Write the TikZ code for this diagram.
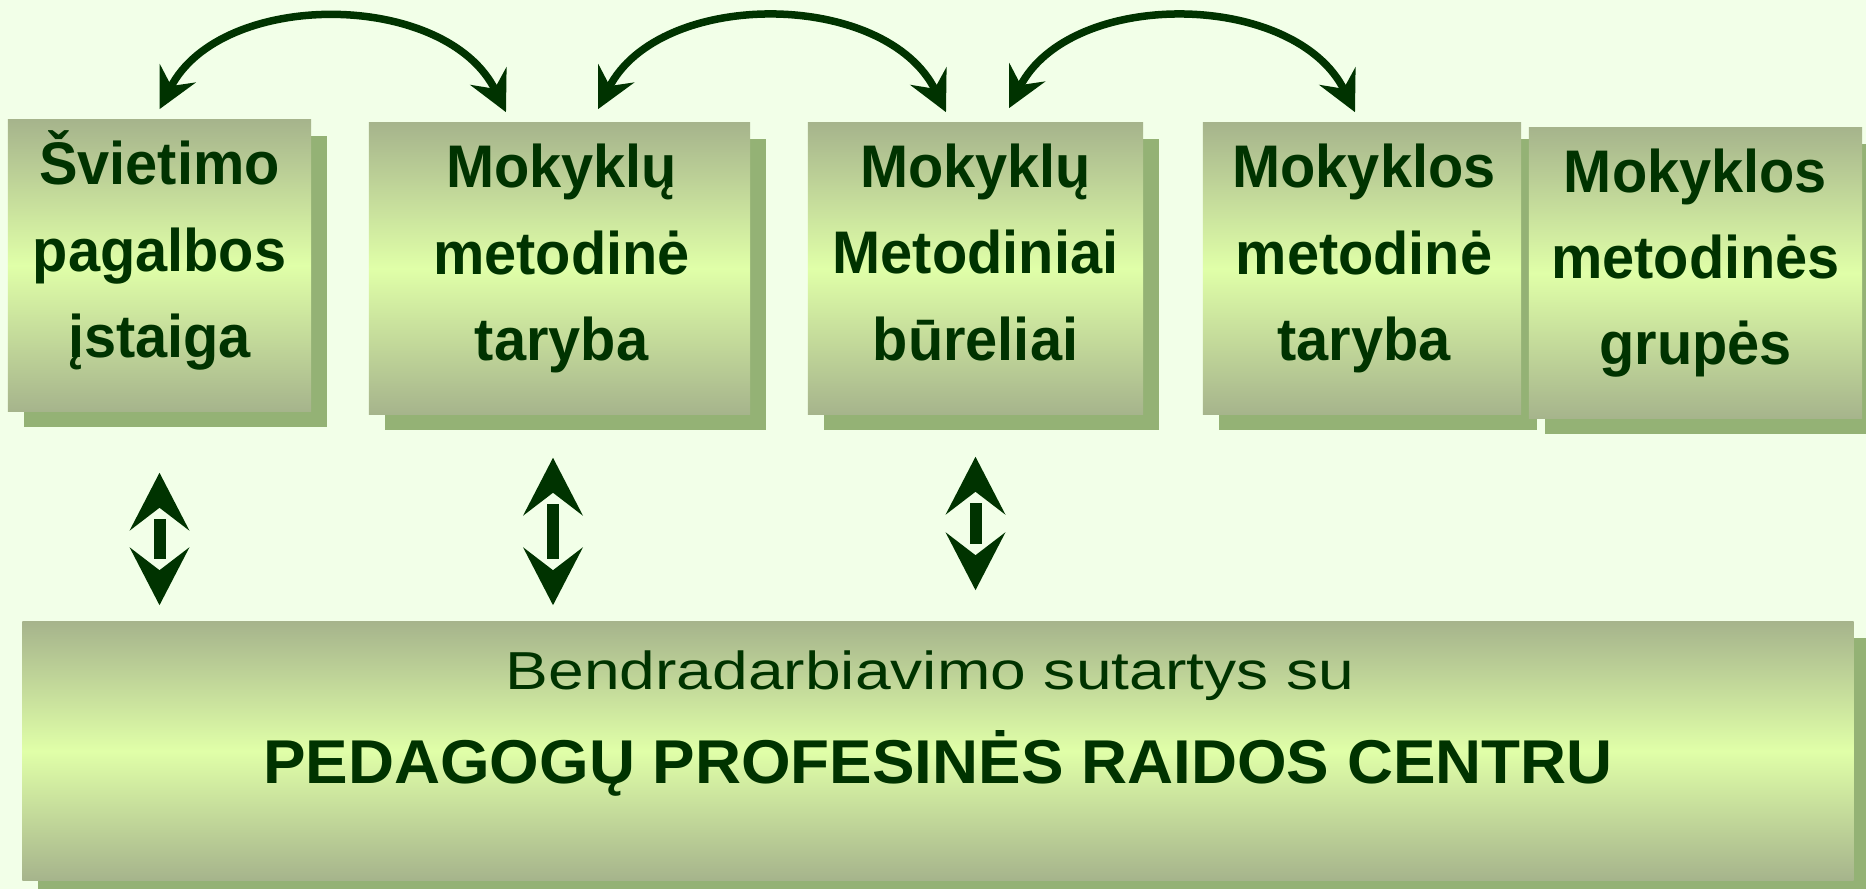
\documentclass[tikz,border=0pt]{standalone}
\usepackage{fontspec}
\setmainfont{Liberation Sans}
\newfontfamily\boxfont[FakeStretch=0.96]{Liberation Sans}
\newfontfamily\widefont[FakeStretch=1.2]{Liberation Sans}
\newfontfamily\bigfont[FakeStretch=1.03]{Liberation Sans}
\usetikzlibrary{arrows.meta,shadows}

\definecolor{bggreen}{HTML}{F2FFE8}
\definecolor{edgegreen}{HTML}{A6B48C}
\definecolor{midgreen}{HTML}{E0FFA8}
\definecolor{shadowgreen}{HTML}{94B275}
\definecolor{darkgreen}{HTML}{003300}

\tikzset{
  box/.style={rectangle, inner sep=0pt, top color=edgegreen, bottom color=edgegreen, middle color=midgreen,
    general shadow={fill=shadowgreen, shadow xshift=0.16cm, shadow yshift=-0.16cm}},
  boxtext/.style={align=center, text=darkgreen, font=\boxfont\bfseries\fontsize{17.1pt}{24.5pt}\selectfont},
  arcline/.style={line width=0.075cm, draw=darkgreen, looseness=1.0,
    {Stealth[length=0.4cm,width=0.4cm,inset=0.14cm]}-{Stealth[length=0.4cm,width=0.4cm,inset=0.14cm]}}
}

% up and down arrow between a top tip and a bottom tip
\newcommand{\twoway}[2]{%
  \fill[darkgreen] (#1) -- ++(30,-58) -- ++(-30,23) -- ++(-30,-23) -- cycle;
  \fill[darkgreen] (#2) -- ++(30,58) -- ++(-30,-23) -- ++(-30,23) -- cycle;
  \fill[darkgreen] ([shift={(-6,-46)}]#1) rectangle ([shift={(6,46)}]#2);
}

\begin{document}
\begin{tikzpicture}[x=0.01cm, y=0.01cm]

    % Background
    \useasboundingbox (0,0) rectangle (1866,889);
    \clip (0,0) rectangle (1866,889);
    \fill[bggreen] (0,0) rectangle (1866,889);

    % Upper boxes
    \node[box, minimum width=3.03cm, minimum height=2.91cm] (b1) at (159.5,623.5) {};
    \node[box, minimum width=3.81cm, minimum height=2.91cm] (b2) at (559.5,620.5) {};
    \node[box, minimum width=3.35cm, minimum height=2.91cm] (b3) at (975.5,620.5) {};
    \node[box, minimum width=3.18cm, minimum height=2.91cm] (b4) at (1362,620.5) {};
    \node[box, minimum width=3.33cm, minimum height=2.90cm] (b5) at (1695.5,616) {};

    \node[boxtext] (t1) at ([shift={(0,15)}]b1.center) {Švietimo\\pagalbos\\įstaiga};
    \node[boxtext] (t2) at ([shift={(2,10)}]b2.center) {Mokyklų\\metodinė\\taryba};
    \node[boxtext] (t3) at ([shift={(0,16)}]b3.center) {Mokyklų\\Metodiniai\\būreliai};
    \node[boxtext] (t4) at ([shift={(2,10)}]b4.center) {Mokyklos\\metodinė\\taryba};
    \node[boxtext] (t5) at ([shift={(0,10)}]b5.center) {Mokyklos\\metodinės\\grupės};

    % Lower box
    \node[box, minimum width=18.30cm, minimum height=2.58cm] (bot) at (938,138) {};
    \node[anchor=base, text=darkgreen, font=\widefont\fontsize{15.2pt}{18pt}\selectfont]
        (sutartys) at ([shift={(-8,61)}]bot.center) {Bendradarbiavimo sutartys su};
    \node[anchor=base, text=darkgreen, font=\bigfont\bfseries\fontsize{17.6pt}{21pt}\selectfont]
        (centras) at ([shift={(0,-33)}]bot.center) {PEDAGOGŲ PROFESINĖS RAIDOS CENTRU};

    % Curved arrows on top
    \coordinate (l1) at ([shift={(0,10)}]b1.north);
    \coordinate (r1) at ([shift={(-53.5,10)}]b2.north);
    \coordinate (l2) at ([shift={(38.5,13)}]b2.north);
    \coordinate (r2) at ([shift={(-29.5,10)}]b3.north);
    \coordinate (l3) at ([shift={(33.5,14)}]b3.north);
    \coordinate (r3) at ([shift={(-7,10)}]b4.north);
    \draw[arcline] (l1) to[out=63, in=116] (r1);
    \draw[arcline] (l2) to[out=63, in=116] (r2);
    \draw[arcline] (l3) to[out=63, in=116] (r3);

    % Up and down arrows
    \coordinate (u1) at ([shift={(0,-61)}]b1.south);
    \coordinate (u2) at ([shift={(-6.5,-43)}]b2.south);
    \coordinate (u3) at ([shift={(0,-42)}]b3.south);
    \path (u1 |- bot.north) ++(0,16) coordinate (d1);
    \path (u2 |- bot.north) ++(0,16) coordinate (d2);
    \path (u3 |- bot.north) ++(0,31) coordinate (d3);
    \twoway{u1}{d1}
    \twoway{u2}{d2}
    \twoway{u3}{d3}
\end{tikzpicture}
\end{document}
